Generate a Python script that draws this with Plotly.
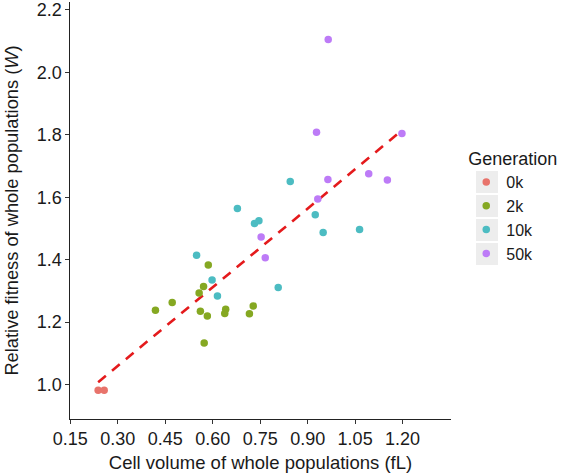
import numpy as np
import plotly.graph_objects as go

# ---- data ----
gen_labels = ["0k", "2k", "10k", "50k"]
gen_colors = ["#E8736B", "#85A822", "#4CBCC2", "#BD7BF7"]

vol_0k = [0.238, 0.257]
fit_0k = [0.982, 0.982]

vol_2k = [0.419, 0.472, 0.557, 0.571, 0.586, 0.561, 0.583, 0.573, 0.641, 0.638, 0.716, 0.728]
fit_2k = [1.238, 1.263, 1.293, 1.314, 1.383, 1.235, 1.220, 1.133, 1.241, 1.228, 1.227, 1.252]

vol_10k = [0.549, 0.598, 0.615, 0.678, 0.732, 0.746, 0.807, 0.845, 0.924, 0.949, 1.064]
fit_10k = [1.414, 1.335, 1.284, 1.564, 1.516, 1.525, 1.311, 1.650, 1.544, 1.487, 1.497]

vol_50k = [0.965, 0.928, 1.198, 0.964, 1.093, 1.152, 0.932, 0.753, 0.766]
fit_50k = [2.105, 1.808, 1.804, 1.657, 1.675, 1.655, 1.594, 1.473, 1.406]

x_ticks = [0.15, 0.30, 0.45, 0.60, 0.75, 0.90, 1.05, 1.20]
x_ticktext = ["0.15", "0.30", "0.45", "0.60", "0.75", "0.90", "1.05", "1.20"]
y_ticks = [1.0, 1.2, 1.4, 1.6, 1.8, 2.0, 2.2]
y_ticktext = ["1.0", "1.2", "1.4", "1.6", "1.8", "2.0", "2.2"]

x_title = "Cell volume of whole populations (fL)"
y_title = "Relative fitness of whole populations (<i>W</i>)"
legend_title = "Generation"

FONT = "Liberation Sans, Arial, Helvetica, sans-serif"

# layout geometry (pixels)
W, H = 566, 476
ML, MR, MT, MB = 70, 115, 2, 57
PW, PH = W - ML - MR, H - MT - MB

vols = [vol_0k, vol_2k, vol_10k, vol_50k]
fits = [fit_0k, fit_2k, fit_10k, fit_50k]

fig = go.Figure()

# linear fit over all populations
all_x = np.concatenate([np.array(v) for v in vols])
all_y = np.concatenate([np.array(f) for f in fits])
slope, intercept = np.polyfit(all_x, all_y, 1)
lx = np.array([all_x.min(), all_x.max()])
fig.add_trace(go.Scatter(
    x=lx, y=slope * lx + intercept, mode="lines",
    line=dict(color="#E41A1C", width=2.6, dash="10px,8px"),
    showlegend=False, hoverinfo="skip"))

for lab, col, vx, fy in zip(gen_labels, gen_colors, vols, fits):
    fig.add_trace(go.Scatter(
        x=vx, y=fy, mode="markers", name=lab,
        marker=dict(color=col, size=7.5, line=dict(width=0))))

axis_common = dict(
    showline=True, linecolor="#222", linewidth=1.2,
    ticks="outside", ticklen=3.5, tickcolor="#333", tickwidth=1.1,
    showgrid=False, zeroline=False, mirror=False,
    tickfont=dict(family=FONT, size=18, color="#1a1a1a"),
)

fig.update_xaxes(range=[0.149, 1.353], tickvals=x_ticks, ticktext=x_ticktext,
                 title=dict(text=x_title, font=dict(family=FONT, size=18.5, color="#1a1a1a"), standoff=7),
                 **axis_common)
fig.update_yaxes(range=[0.890, 2.225], tickvals=y_ticks, ticktext=y_ticktext,
                 title=dict(text=y_title, font=dict(family=FONT, size=18.3, color="#1a1a1a"), standoff=13),
                 **axis_common)

# grey legend key backgrounds (ggplot style), placed behind the legend symbols
key_x0, key_x1 = 476, 498
key_rows = [(171, 193), (195, 217), (219, 241), (243, 265)]
for (y0, y1) in key_rows:
    fig.add_shape(type="rect", xref="paper", yref="paper",
                  x0=(key_x0 - ML) / PW, x1=(key_x1 - ML) / PW,
                  y0=1 - (y1 - MT) / PH, y1=1 - (y0 - MT) / PH,
                  fillcolor="#EDEDED", line=dict(width=0), layer="below")

fig.update_layout(
    width=W, height=H,
    margin=dict(l=ML, r=MR, t=MT, b=MB, autoexpand=False),
    plot_bgcolor="white", paper_bgcolor="white",
    font=dict(family=FONT, size=18, color="#1a1a1a"),
    legend=dict(
        title=dict(text=legend_title, font=dict(family=FONT, size=18)),
        font=dict(family=FONT, size=16),
        x=1.04, y=0.665, xanchor="left", yanchor="top",
        bgcolor="rgba(0,0,0,0)", borderwidth=0,
        tracegroupgap=0,
    ),
)

fig.write_html("out.html", config={"displayModeBar": False},
               post_script="document.body.style.margin='0';document.body.style.overflow='hidden';")
